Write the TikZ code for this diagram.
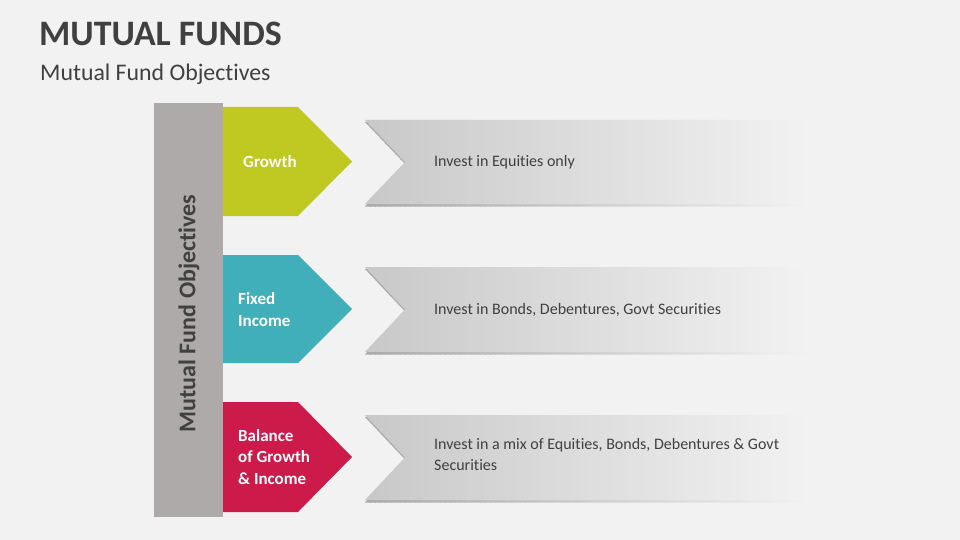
\documentclass[tikz,border=0pt]{standalone}
\usepackage{fontspec}
\setmainfont{Carlito}[Ligatures={NoCommon}]
\usetikzlibrary{calc}
\definecolor{bg}{HTML}{F2F2F2}
\definecolor{txt}{HTML}{404040}
\definecolor{barc}{HTML}{ADAAA9}
\definecolor{cgrow}{HTML}{C0C822}
\definecolor{cfix}{HTML}{40AFBA}
\definecolor{cbal}{HTML}{CC1A4A}
\definecolor{chevL}{HTML}{C8C8C8}
\definecolor{shad}{HTML}{A8A8A8}
\tikzset{
  lbl/.style={text=white, font=\bfseries\fontsize{17}{21.5}\selectfont, align=left, anchor=west, inner sep=0pt},
  desc/.style={text=txt, font=\fontsize{16}{21}\selectfont, align=left, anchor=west, inner sep=0pt},
}
\newcommand{\pent}[3]{% color, top y, bottom y
  \fill[#1] (223,#2) -- (298,#2) -- (352,{(#2+#3)/2}) -- (298,#3) -- (223,#3) -- cycle;}
\newcommand{\chevstrips}[3]{% base color, top y, bottom y
  \foreach \i in {0,...,88} {
    \pgfmathtruncatemacro\p{max(0,100-(\i*5+2.5)/4.45)}
    \fill[#1!\p!bg] ({365+\i*5},{#2-1}) rectangle ({370.6+\i*5},{#3+4});
  }}
\newcommand{\chev}[2]{% top y, bottom y
  \begin{scope}
    \clip (365,{#1+2}) -- (810,{#1+2}) -- (810,{#2+2.5}) -- (365,{#2+2.5}) -- (405,{(#1+#2)/2+2}) -- cycle;
    \chevstrips{shad}{#1}{#2}
  \end{scope}
  \begin{scope}
    \clip (365,#1) -- (810,#1) -- (810,#2) -- (365,#2) -- (405,{(#1+#2)/2}) -- cycle;
    \chevstrips{chevL}{#1}{#2}
  \end{scope}}
\begin{document}
\begin{tikzpicture}[x=1pt,y=-1pt]
\fill[bg] (0,0) rectangle (960,540);
\useasboundingbox (0,0) rectangle (960,540);
\node[anchor=base west, inner sep=0pt, text=txt, font=\bfseries\fontsize{35.8}{40}\selectfont] (title) at (39,46) {MUTUAL FUNDS};
\node[anchor=base west, inner sep=0pt, text=txt, font=\fontsize{23.8}{26}\selectfont] (sub) at (40,81) {Mutual Fund Objectives};
% vertical bar
\fill[barc] (154,103) rectangle (223,517);
\node[rotate=90, text=txt, font=\bfseries\fontsize{24}{26}\selectfont, inner sep=0pt] (vbar) at (189,313.5) {Mutual Fund Objectives};
% pentagons
\pent{cgrow}{107}{216}
\pent{cfix}{255}{363}
\pent{cbal}{402}{512}
\node[lbl] (g) at (243,162) {Growth};
\node[lbl] (f) at (238,309.5) {Fixed\\Income};
\node[lbl] (b) at (238,457) {Balance\\of Growth\\\& Income};
% chevrons
\chev{120}{204}
\chev{267}{352}
\chev{415}{500}
\node[desc] (d1) at (434,162) {Invest in Equities only};
\node[desc] (d2) at (434,309.5) {Invest in Bonds, Debentures, Govt Securities};
\node[desc] (d3) at (434,454) {Invest in a mix of Equities, Bonds, Debentures \& Govt\\Securities};
\end{tikzpicture}
\end{document}
